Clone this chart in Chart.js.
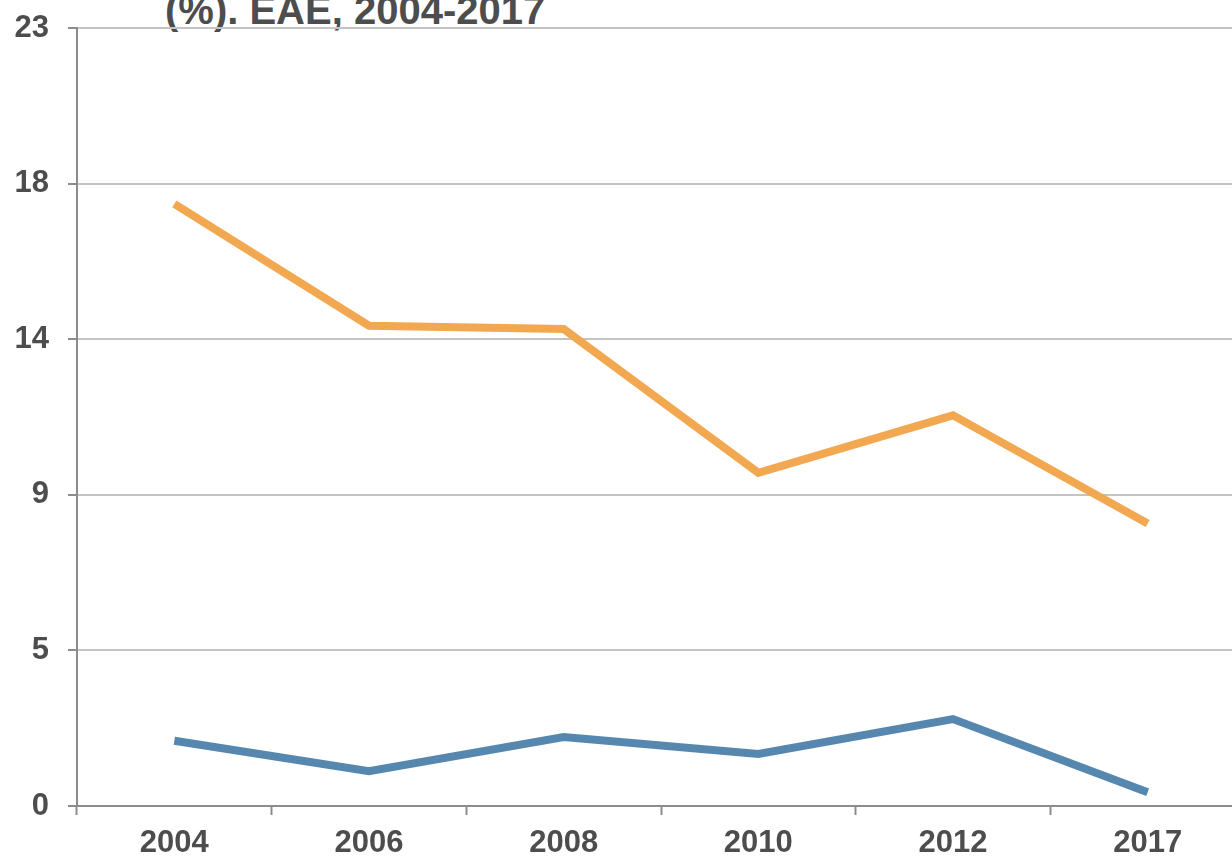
<!DOCTYPE html>
<html>
<head>
<meta charset="utf-8">
<script src="https://cdn.jsdelivr.net/npm/chart.js@4"></script>
<style>
  html, body { margin: 0; padding: 0; background: #fff; overflow: hidden; }
  #wrap { position: relative; width: 1232px; height: 856px; overflow: hidden; }
  #title {
    position: absolute; left: 165px; top: -10px;
    font: bold 40px 'Liberation Sans', Arial, sans-serif;
    line-height: 40px; color: #4d4d4d; white-space: nowrap;
  }
  #chart { position: absolute; left: 0; top: 0; }
</style>
</head>
<body>
<div id="wrap">
  <div id="title">(%). EAE, 2004-2017</div>
  <canvas id="chart" width="1245" height="856"></canvas>
</div>
<script>
// data
const years = ["2004", "2006", "2008", "2010", "2012", "2017"];
const orangeValues = [17.8, 14.2, 14.1, 9.85, 11.55, 8.35];
const blueValues = [1.93, 1.03, 2.04, 1.54, 2.57, 0.41];
const yTickValues = [0, 4.6, 9.2, 13.8, 18.4, 23];
const yTickLabels = ["0", "5", "9", "14", "18", "23"];

Chart.defaults.font.family = "'Liberation Sans', Arial, sans-serif";

new Chart(document.getElementById("chart"), {
    type: "line",
    data: {
        labels: years,
        datasets: [
            {
                data: orangeValues,
                borderColor: "rgb(242,168,80)",
                borderWidth: 8,
                pointRadius: 0,
                tension: 0,
                borderCapStyle: "butt",
                borderJoinStyle: "miter"
            },
            {
                data: blueValues,
                borderColor: "rgb(86,136,175)",
                borderWidth: 8,
                pointRadius: 0,
                tension: 0,
                borderCapStyle: "butt",
                borderJoinStyle: "miter"
            }
        ]
    },
    options: {
        responsive: false,
        animation: false,
        layout: { padding: { top: 28, right: 0, left: 0, bottom: 0 } },
        plugins: {
            legend: { display: false },
            tooltip: { enabled: false }
        },
        scales: {
            x: {
                offset: true,
                grid: {
                    offset: true,
                    drawOnChartArea: false,
                    drawTicks: true,
                    tickLength: 9,
                    tickWidth: 2,
                    tickColor: "#8c8c8c"
                },
                border: { color: "#8c8c8c", width: 2 },
                ticks: {
                    color: "#4d4d4d",
                    font: { size: 31, weight: "bold" },
                    padding: 10,
                    maxRotation: 0
                },
                afterFit: scale => { scale.height = 50; }
            },
            y: {
                min: 0,
                max: 23,
                afterBuildTicks: scale => {
                    scale.ticks = yTickValues.map(v => ({ value: v }));
                },
                grid: {
                    color: "#c4c4c4",
                    lineWidth: 2,
                    tickLength: 9,
                    tickColor: "#8c8c8c",
                    tickWidth: 2
                },
                border: { color: "#8c8c8c", width: 2 },
                ticks: {
                    color: "#4d4d4d",
                    font: { size: 31, weight: "bold" },
                    padding: 19,
                    callback: (value, index) => yTickLabels[index]
                },
                afterFit: scale => {
                    scale.width = 77;
                    scale.paddingTop = 0;
                    scale.paddingBottom = 0;
                }
            }
        }
    }
});
</script>
</body>
</html>
